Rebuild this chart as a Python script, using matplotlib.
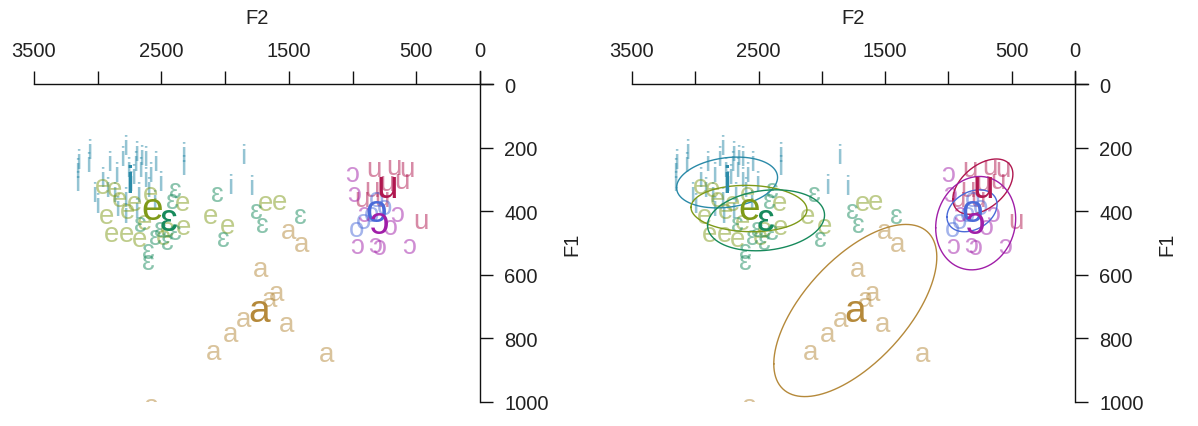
import numpy as np
import matplotlib
matplotlib.use("Agg")
import matplotlib.pyplot as plt
from matplotlib.transforms import blended_transform_factory

plt.rcParams['font.family'] = ['Liberation Sans', 'DejaVu Sans']

# vowel categories and colours (mean colour; tokens use the same colour, transparent)
vowels = ['i', 'e', 'ɛ', 'a', 'u', 'o', 'ɔ']
vowel_colors = ['#2a8aa8', '#7f9a18', '#178a5c', '#b5893a', '#b0174f', '#4a6ad8', '#a01ea8']

# tokens (F2, F1) in Hz
i_f2 = [3160, 3160, 3150, 3065, 3075, 2962, 2906, 2851, 2811, 2764, 2708, 2748, 2669, 2629, 2629,
        2589, 2550, 2510, 2867, 2787, 2684, 2328, 2328, 1956, 1861, 1798, 2787, 2922, 2724, 2605,
        3025, 2700, 2660, 2850, 2780, 2700, 3000, 2560]
i_f1 = [271, 312, 240, 211, 250, 297, 249, 281, 233, 265, 249, 312, 265, 233, 297,
        281, 249, 312, 344, 360, 344, 218, 259, 319, 227, 322, 196, 328, 290, 328,
        344, 215, 230, 390, 410, 395, 380, 370]

e_f2 = [2962, 2930, 2890, 2772, 2669, 2336, 2328, 2114, 1980, 1679, 1576, 2455, 2764, 2487,
        2827, 2708, 2589, 2867, 2629]
e_f1 = [319, 413, 470, 470, 486, 375, 448, 413, 445, 375, 369, 454, 398, 480,
        360, 375, 344, 328, 432]

eh_f2 = [2059, 2011, 1758, 1710, 1410, 2605, 2605, 2455, 2391, 2510, 2415, 2391, 2669, 2550]
eh_f1 = [344, 486, 398, 442, 416, 558, 524, 495, 464, 454, 366, 334, 439, 480]

a_f2 = [1718, 1655, 1600, 1853, 1956, 2091, 1520, 1204, 1505, 1402, 2575]
a_f1 = [581, 675, 656, 738, 786, 842, 754, 849, 461, 502, 1013]

u_f2 = [832, 673, 570, 610, 729, 847, 927, 467, 768]
u_f1 = [265, 259, 265, 303, 312, 328, 360, 429, 360]

o_f2 = [911, 966, 745, 808, 847]
o_f1 = [429, 454, 385, 360, 407]

oh_f2 = [966, 792, 820, 555, 1006, 990, 911, 705, 650]
oh_f1 = [508, 511, 505, 508, 281, 344, 407, 448, 407]

token_f2 = [i_f2, e_f2, eh_f2, a_f2, u_f2, o_f2, oh_f2]
token_f1 = [i_f1, e_f1, eh_f1, a_f1, u_f1, o_f1, oh_f1]

# vowel means
mean_f2 = [2749, 2576, 2441, 1736, 728, 814, 785]
mean_f1 = [309, 391, 428, 712, 322, 398, 437]

# ellipse half-extents (Hz) and F2/F1 correlation
ell_f2 = [399, 458, 462, 644, 237, 198, 316]
ell_f1 = [80, 73, 96, 271, 87, 66, 147]
ell_r = [0.2, -0.05, 0.17, 0.62, 0.45, 0.3, 0.1]

f2_ticks = [3500, 3000, 2500, 2000, 1500, 1000, 500, 0]
f2_labels = ['3500', '', '2500', '', '1500', '', '500', '0']
f1_ticks = [0, 200, 400, 600, 800, 1000]


def setup_axes(ax):
    ax.set_xlim(3500, -100)
    ax.set_ylim(1000, -42)
    for s in ['bottom', 'left']:
        ax.spines[s].set_visible(False)
    ax.spines['top'].set_position(('data', 0))
    ax.spines['right'].set_position(('data', 0))
    for s in ['top', 'right']:
        ax.spines[s].set_linewidth(1.0)
        ax.spines[s].set_color('#111111')
    ax.xaxis.tick_top()
    ax.yaxis.tick_right()
    ax.set_xticks(f2_ticks)
    ax.set_xticklabels(f2_labels)
    ax.set_yticks(f1_ticks)
    ax.set_yticklabels([str(v) for v in f1_ticks])
    ax.tick_params(direction='out', length=9.5, width=1.0, color='#111111',
                   labelsize=14.5, labelcolor='#222222', pad=8)
    ax.patch.set_visible(False)
    tr_x = blended_transform_factory(ax.transData, ax.transAxes)
    ax.text(1750, 1.163, 'F2', transform=tr_x, ha='center', va='center',
            fontsize=14.5, color='#222222')
    tr_y = blended_transform_factory(ax.transAxes, ax.transData)
    ax.text(1.173, 500, 'F1', transform=tr_y, ha='center', va='center',
            rotation=90, fontsize=14.5, color='#222222')


def draw_tokens(ax):
    for v, col, xs, ys in zip(vowels, vowel_colors, token_f2, token_f1):
        for x, y in zip(xs, ys):
            ax.text(x, y, v, color=col, alpha=0.5, fontsize=20,
                    ha='center', va='center', clip_on=True)


def draw_means(ax):
    for v, col, x, y in zip(vowels, vowel_colors, mean_f2, mean_f1):
        ax.text(x, y, v, color=col, fontsize=28, ha='center', va='center',
                clip_on=True, zorder=5)


def draw_ellipses(ax):
    t = np.linspace(0, 2 * np.pi, 240)
    for col, cx, cy, sx, sy, r in zip(vowel_colors, mean_f2, mean_f1, ell_f2, ell_f1, ell_r):
        ex = cx + sx * np.cos(t)
        ey = cy + sy * (r * np.cos(t) + np.sqrt(1 - r ** 2) * np.sin(t))
        ax.plot(ex, ey, color=col, lw=1.0, zorder=4)


fig = plt.figure(figsize=(11.98, 4.27), dpi=100)
ax1 = fig.add_axes([0.02838, 0.05621, 0.38289, 0.77518])
ax2 = fig.add_axes([0.52755, 0.05621, 0.38038, 0.77518])

for ax in (ax1, ax2):
    setup_axes(ax)
    draw_tokens(ax)

draw_ellipses(ax2)
for ax in (ax1, ax2):
    draw_means(ax)

fig.savefig('out.png', dpi=100)
